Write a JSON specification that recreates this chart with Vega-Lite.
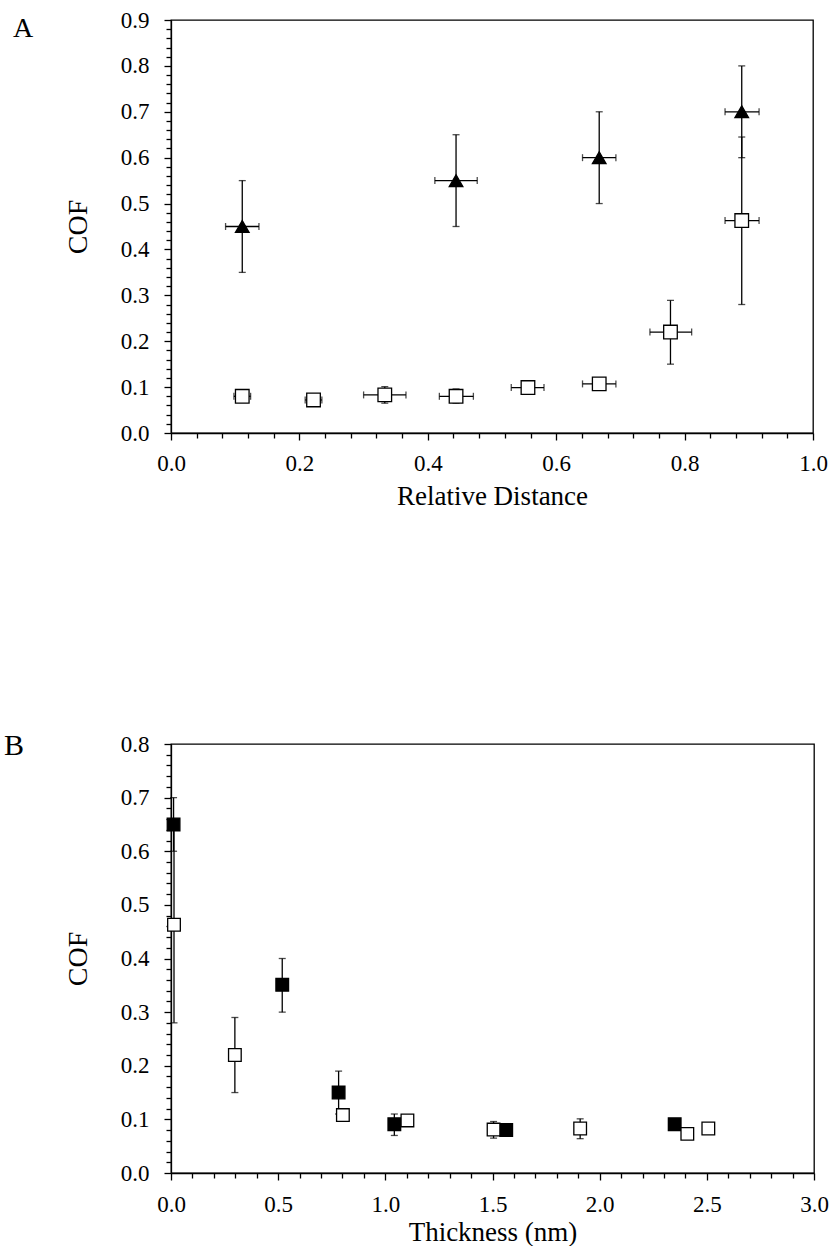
{
  "$schema": "https://vega.github.io/schema/vega-lite/v6.json",
  "background": "white",
  "padding": {"left": 3, "top": 8, "right": 0, "bottom": 0},
  "spacing": 220,
  "resolve": {"scale": {"fill": "independent", "shape": "independent"}},
  "config": {
    "view": {"stroke": "black", "strokeWidth": 1.3},
    "font": "Liberation Serif",
    "axis": {
      "grid": false,
      "domainColor": "black",
      "domainWidth": 1.3,
      "tickColor": "black",
      "tickWidth": 1.3,
      "labelFont": "Liberation Serif",
      "labelFontSize": 23,
      "labelColor": "black",
      "titleFont": "Liberation Serif",
      "titleFontSize": 27,
      "titleFontWeight": "normal",
      "titleColor": "black",
      "labelFlush": false,
      "labelOverlap": false
    },
    "title": {"font": "Liberation Serif", "fontWeight": "normal", "color": "black"}
  },
  "vconcat": [
    {
      "width": 642,
      "height": 413,
      "title": {"text": "A", "anchor": "start", "frame": "group", "fontSize": 28, "dx": -158, "dy": 56, "offset": 0, "baseline": "alphabetic"},
      "data": {"values": [
        {"s": "sq", "x": 0.111, "y": 0.080, "xlo": 0.098, "xhi": 0.124, "ylo": 0.078, "yhi": 0.082},
        {"s": "sq", "x": 0.222, "y": 0.072, "xlo": 0.209, "xhi": 0.235, "ylo": 0.070, "yhi": 0.074},
        {"s": "sq", "x": 0.333, "y": 0.083, "xlo": 0.300, "xhi": 0.366, "ylo": 0.065, "yhi": 0.101},
        {"s": "sq", "x": 0.444, "y": 0.080, "xlo": 0.418, "xhi": 0.471, "ylo": 0.065, "yhi": 0.096},
        {"s": "sq", "x": 0.556, "y": 0.099, "xlo": 0.530, "xhi": 0.581, "ylo": 0.097, "yhi": 0.101},
        {"s": "sq", "x": 0.667, "y": 0.107, "xlo": 0.641, "xhi": 0.693, "ylo": 0.105, "yhi": 0.109},
        {"s": "sq", "x": 0.778, "y": 0.220, "xlo": 0.746, "xhi": 0.811, "ylo": 0.150, "yhi": 0.289},
        {"s": "sq", "x": 0.889, "y": 0.463, "xlo": 0.863, "xhi": 0.916, "ylo": 0.280, "yhi": 0.645},
        {"s": "tri", "x": 0.111, "y": 0.45, "xlo": 0.085, "xhi": 0.137, "ylo": 0.35, "yhi": 0.55},
        {"s": "tri", "x": 0.444, "y": 0.55, "xlo": 0.411, "xhi": 0.477, "ylo": 0.45, "yhi": 0.65},
        {"s": "tri", "x": 0.667, "y": 0.60, "xlo": 0.641, "xhi": 0.693, "ylo": 0.50, "yhi": 0.70},
        {"s": "tri", "x": 0.889, "y": 0.70, "xlo": 0.863, "xhi": 0.916, "ylo": 0.60, "yhi": 0.80}
      ]},
      "encoding": {
        "x": {
          "field": "x", "type": "quantitative",
          "scale": {"domain": [0, 1], "nice": false, "zero": false},
          "axis": {
            "title": "Relative Distance",
            "values": [0, 0.04, 0.08, 0.12, 0.16, 0.2, 0.24, 0.28, 0.32, 0.36, 0.4, 0.44, 0.48, 0.52, 0.56, 0.6, 0.64, 0.68, 0.72, 0.76, 0.8, 0.84, 0.88, 0.92, 0.96, 1],
            "labelExpr": "abs(datum.value*5-round(datum.value*5))<0.001 ? format(datum.value,'.1f') : ''",
            "tickSize": {"condition": {"test": "abs(datum.value*5-round(datum.value*5))<0.001", "value": 7}, "value": 5},
            "labelPadding": 12,
            "titlePadding": 8
          }
        },
        "y": {
          "field": "y", "type": "quantitative",
          "scale": {"domain": [0, 0.9], "nice": false, "zero": false},
          "axis": {
            "title": "COF",
            "titleFontSize": 28,
            "values": [0, 0.02, 0.04, 0.06, 0.08, 0.1, 0.12, 0.14, 0.16, 0.18, 0.2, 0.22, 0.24, 0.26, 0.28, 0.3, 0.32, 0.34, 0.36, 0.38, 0.4, 0.42, 0.44, 0.46, 0.48, 0.5, 0.52, 0.54, 0.56, 0.58, 0.6, 0.62, 0.64, 0.66, 0.68, 0.7, 0.72, 0.74, 0.76, 0.78, 0.8, 0.82, 0.84, 0.86, 0.88, 0.9],
            "labelExpr": "abs(datum.value*10-round(datum.value*10))<0.001 ? format(datum.value,'.1f') : ''",
            "tickSize": {"condition": {"test": "abs(datum.value*10-round(datum.value*10))<0.001", "value": 7}, "value": 5},
            "labelPadding": 15,
            "titlePadding": 28
          }
        }
      },
      "layer": [
        {"mark": {"type": "rule", "color": "black", "strokeWidth": 1.3},
         "encoding": {"y": {"field": "ylo", "type": "quantitative"}, "y2": {"field": "yhi"}}},
        {"mark": {"type": "rule", "color": "black", "strokeWidth": 1.3},
         "encoding": {"x": {"field": "xlo", "type": "quantitative"}, "x2": {"field": "xhi"}}},
        {"mark": {"type": "tick", "orient": "horizontal", "size": 7, "thickness": 1.3, "color": "black"},
         "encoding": {"y": {"field": "ylo", "type": "quantitative"}}},
        {"mark": {"type": "tick", "orient": "horizontal", "size": 7, "thickness": 1.3, "color": "black"},
         "encoding": {"y": {"field": "yhi", "type": "quantitative"}}},
        {"mark": {"type": "tick", "orient": "vertical", "size": 7, "thickness": 1.3, "color": "black"},
         "encoding": {"x": {"field": "xlo", "type": "quantitative"}}},
        {"mark": {"type": "tick", "orient": "vertical", "size": 7, "thickness": 1.3, "color": "black"},
         "encoding": {"x": {"field": "xhi", "type": "quantitative"}}},
        {"mark": {"type": "point", "filled": true, "stroke": "black", "strokeWidth": 1.3, "opacity": 1, "size": 185},
         "encoding": {
           "shape": {"field": "s", "type": "nominal", "scale": {"domain": ["sq", "tri"], "range": ["square", "triangle-up"]}, "legend": null},
           "fill": {"field": "s", "type": "nominal", "scale": {"domain": ["sq", "tri"], "range": ["white", "black"]}, "legend": null}
         }}
      ]
    },
    {
      "width": 643,
      "height": 429,
      "title": {"text": "B", "anchor": "start", "frame": "group", "fontSize": 30, "dx": -167, "dy": 52, "offset": 0, "baseline": "alphabetic"},
      "data": {"values": [
        {"s": "f", "x": 0.012, "y": 0.65, "ylo": 0.60, "yhi": 0.70},
        {"s": "f", "x": 0.519, "y": 0.351, "ylo": 0.30, "yhi": 0.40},
        {"s": "f", "x": 0.782, "y": 0.150, "ylo": 0.11, "yhi": 0.19},
        {"s": "f", "x": 1.042, "y": 0.091, "ylo": 0.070, "yhi": 0.110},
        {"s": "f", "x": 1.564, "y": 0.080, "ylo": 0.078, "yhi": 0.082},
        {"s": "f", "x": 2.35, "y": 0.091, "ylo": 0.089, "yhi": 0.093},
        {"s": "o", "x": 0.014, "y": 0.463, "ylo": 0.28, "yhi": 0.645},
        {"s": "o", "x": 0.298, "y": 0.22, "ylo": 0.15, "yhi": 0.29},
        {"s": "o", "x": 0.802, "y": 0.108, "ylo": 0.106, "yhi": 0.110},
        {"s": "o", "x": 1.103, "y": 0.098, "ylo": 0.096, "yhi": 0.100},
        {"s": "o", "x": 1.505, "y": 0.081, "ylo": 0.065, "yhi": 0.096},
        {"s": "o", "x": 1.909, "y": 0.083, "ylo": 0.064, "yhi": 0.101},
        {"s": "o", "x": 2.409, "y": 0.073, "ylo": 0.071, "yhi": 0.075},
        {"s": "o", "x": 2.507, "y": 0.083, "ylo": 0.081, "yhi": 0.085}
      ]},
      "encoding": {
        "x": {
          "field": "x", "type": "quantitative",
          "scale": {"domain": [0, 3], "nice": false, "zero": false},
          "axis": {
            "title": "Thickness (nm)",
            "values": [0, 0.1, 0.2, 0.3, 0.4, 0.5, 0.6, 0.7, 0.8, 0.9, 1, 1.1, 1.2, 1.3, 1.4, 1.5, 1.6, 1.7, 1.8, 1.9, 2, 2.1, 2.2, 2.3, 2.4, 2.5, 2.6, 2.7, 2.8, 2.9, 3],
            "labelExpr": "abs(datum.value*2-round(datum.value*2))<0.001 ? format(datum.value,'.1f') : ''",
            "tickSize": {"condition": {"test": "abs(datum.value*2-round(datum.value*2))<0.001", "value": 7}, "value": 5},
            "labelPadding": 13,
            "titlePadding": 3
          }
        },
        "y": {
          "field": "y", "type": "quantitative",
          "scale": {"domain": [0, 0.8], "nice": false, "zero": false},
          "axis": {
            "title": "COF",
            "titleFontSize": 28,
            "values": [0, 0.02, 0.04, 0.06, 0.08, 0.1, 0.12, 0.14, 0.16, 0.18, 0.2, 0.22, 0.24, 0.26, 0.28, 0.3, 0.32, 0.34, 0.36, 0.38, 0.4, 0.42, 0.44, 0.46, 0.48, 0.5, 0.52, 0.54, 0.56, 0.58, 0.6, 0.62, 0.64, 0.66, 0.68, 0.7, 0.72, 0.74, 0.76, 0.78, 0.8],
            "labelExpr": "abs(datum.value*10-round(datum.value*10))<0.001 ? format(datum.value,'.1f') : ''",
            "tickSize": {"condition": {"test": "abs(datum.value*10-round(datum.value*10))<0.001", "value": 7}, "value": 5},
            "labelPadding": 15,
            "titlePadding": 28
          }
        }
      },
      "layer": [
        {"mark": {"type": "rule", "color": "black", "strokeWidth": 1.3},
         "encoding": {"y": {"field": "ylo", "type": "quantitative"}, "y2": {"field": "yhi"}}},
        {"mark": {"type": "tick", "orient": "horizontal", "size": 7, "thickness": 1.3, "color": "black"},
         "encoding": {"y": {"field": "ylo", "type": "quantitative"}}},
        {"mark": {"type": "tick", "orient": "horizontal", "size": 7, "thickness": 1.3, "color": "black"},
         "encoding": {"y": {"field": "yhi", "type": "quantitative"}}},
        {"mark": {"type": "point", "filled": true, "stroke": "black", "strokeWidth": 1.3, "opacity": 1, "size": 160, "shape": "square"},
         "encoding": {
           "fill": {"field": "s", "type": "nominal", "scale": {"domain": ["f", "o"], "range": ["black", "white"]}, "legend": null}
         }}
      ]
    }
  ]
}
